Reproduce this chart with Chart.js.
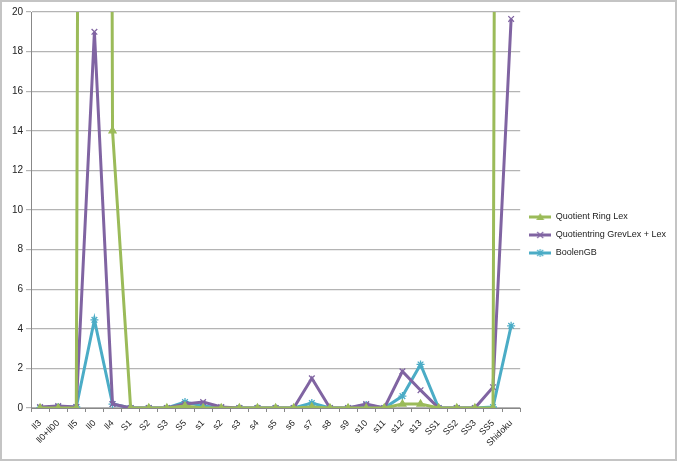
<!DOCTYPE html>
<html>
<head>
<meta charset="utf-8">
<script src="https://cdn.jsdelivr.net/npm/chart.js@4.4.0/dist/chart.umd.min.js"></script>
<style>
  body { margin: 0; background: #fff; }
  #wrap { position: relative; width: 678px; height: 462px; }
</style>
</head>
<body>
<div id="wrap"><canvas id="timingChart" width="678" height="462"></canvas></div>
<script>
// categories (test systems)
const categories = ['ll3', 'll0+ll00', 'll5', 'll0', 'll4', 'S1', 'S2', 'S3', 'S5',
    's1', 's2', 's3', 's4', 's5', 's6', 's7', 's8', 's9', 's10', 's11', 's12', 's13',
    'SS1', 'SS2', 'SS3', 'SS5', 'Shidoku'];

// timings (values above 20 run off the top)
const quotientRingLex = [0, 0, 0, 300, 14, 0, 0, 0, 0.1, 0, 0, 0, 0, 0, 0, 0.05, 0, 0, 0, 0,
    0.2, 0.2, 0, 0, 0, 0, 300];
const quotientGrevLex = [0.05, 0.1, 0.05, 19.0, 0.2, 0, 0, 0, 0.2, 0.3, 0.05, 0, 0, 0, 0, 1.5,
    0, 0, 0.2, 0, 1.85, 0.9, 0, 0, 0, 1.05, 19.65];
const boolenGB = [0, 0.05, 0.05, 4.45, 0.2, 0, 0, 0, 0.3, 0.1, 0, 0, 0, 0, 0, 0.25, 0, 0, 0.15,
    0, 0.6, 2.2, 0, 0, 0, 0.05, 4.15];

const yTicks = [0, 2, 4, 6, 8, 10, 12, 14, 16, 18, 20];

const green = '#9bbb59', purple = '#8064a2', cyan = '#4bacc6';
const fontFamily = '"Liberation Sans", Arial, sans-serif';

// small legend swatch: line with the marker on it, like Excel
function swatch(color, style) {
    const c = document.createElement('canvas');
    c.width = 22; c.height = 10;
    const g = c.getContext('2d');
    g.strokeStyle = color; g.fillStyle = color; g.lineWidth = 3;
    g.beginPath(); g.moveTo(0, 5); g.lineTo(22, 5); g.stroke();
    g.lineWidth = 1.2;
    if (style === 'triangle') {
        g.beginPath(); g.moveTo(11, 1); g.lineTo(15, 8); g.lineTo(7, 8); g.closePath(); g.fill();
    } else if (style === 'crossRot') {
        g.beginPath(); g.moveTo(8, 2); g.lineTo(14, 8); g.moveTo(14, 2); g.lineTo(8, 8); g.stroke();
    } else {
        g.beginPath(); g.moveTo(8, 2); g.lineTo(14, 8); g.moveTo(14, 2); g.lineTo(8, 8);
        g.moveTo(11, 1); g.lineTo(11, 9); g.stroke();
    }
    return c;
}

const framePlugin = {
    id: 'frame',
    afterDraw(chart) {
        const ctx = chart.ctx;
        ctx.save();
        ctx.strokeStyle = '#c4c4c4';
        ctx.lineWidth = 2;
        ctx.strokeRect(1, 1, chart.width - 3, chart.height - 3);
        ctx.restore();
    }
};

const ctx = document.getElementById('timingChart').getContext('2d');
new Chart(ctx, {
    type: 'line',
    data: {
        labels: categories,
        datasets: [
            {
                label: 'Quotient Ring Lex',
                data: quotientRingLex,
                borderColor: green,
                backgroundColor: green,
                pointStyle: 'triangle',
                legendSwatch: swatch(green, 'triangle')
            },
            {
                label: 'Quotientring GrevLex + Lex',
                data: quotientGrevLex,
                borderColor: purple,
                backgroundColor: purple,
                pointStyle: 'crossRot',
                legendSwatch: swatch(purple, 'crossRot')
            },
            {
                label: 'BoolenGB',
                data: boolenGB,
                borderColor: cyan,
                backgroundColor: cyan,
                pointStyle: 'star',
                legendSwatch: swatch(cyan, 'star')
            }
        ]
    },
    options: {
        responsive: false,
        animation: false,
        layout: { padding: { left: 6, top: 12, right: 2, bottom: 4 } },
        elements: {
            line: { borderWidth: 3, tension: 0 },
            point: { radius: 4, borderWidth: 1.3, hoverRadius: 4 }
        },
        plugins: {
            tooltip: { enabled: false },
            legend: {
                position: 'right',
                align: 'center',
                labels: {
                    usePointStyle: true,
                    pointStyleWidth: 22,
                    font: { family: fontFamily, size: 9 },
                    color: '#222',
                    padding: 9,
                    generateLabels(chart) {
                        return chart.data.datasets.map((ds, i) => ({
                            text: ds.label,
                            pointStyle: ds.legendSwatch,
                            fillStyle: ds.borderColor,
                            strokeStyle: ds.borderColor,
                            lineWidth: 0,
                            datasetIndex: i,
                            fontColor: '#222'
                        }));
                    }
                }
            }
        },
        scales: {
            x: {
                offset: true,
                afterFit(scale) { scale.height = 50; },
                grid: {
                    offset: true,
                    drawOnChartArea: false,
                    drawTicks: true,
                    tickLength: 4,
                    color: '#888'
                },
                border: { color: '#888', width: 1 },
                ticks: {
                    autoSkip: false,
                    minRotation: 45,
                    maxRotation: 45,
                    padding: 6,
                    color: '#222',
                    font: { family: fontFamily, size: 9 }
                }
            },
            y: {
                min: 0,
                max: 20,
                afterFit(scale) { scale.width = 25; },
                afterBuildTicks(scale) {
                    scale.ticks = yTicks.map(v => ({ value: v }));
                },
                grid: { color: '#b4b4b4', tickLength: 5, lineWidth: 1.2 },
                border: { color: '#888', width: 1 },
                ticks: {
                    color: '#222',
                    padding: 3,
                    font: { family: fontFamily, size: 10 }
                }
            }
        }
    },
    plugins: [framePlugin]
});
</script>
</body>
</html>
